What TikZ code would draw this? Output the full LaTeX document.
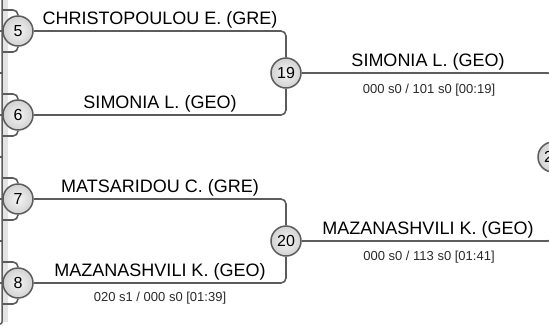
\documentclass[tikz,border=0pt]{standalone}
\usepackage{fontspec}
\setmainfont{Liberation Sans}
\definecolor{lineg}{HTML}{5C5C5C}
\definecolor{bandg}{HTML}{E4E4E4}
\definecolor{circin}{HTML}{F4F4F4}
\definecolor{circout}{HTML}{D2D2D2}
\definecolor{txtg}{HTML}{2A2A2A}
\begin{document}
\begin{tikzpicture}[x=1pt,y=-1pt,
  conn/.style={draw=lineg, line width=1.6pt, rounded corners=5pt},
  seed/.style={circle, draw=lineg, line width=1.5pt, inner color=circin, outer color=circout,
    minimum size=30pt, inner sep=0pt, font=\fontsize{16}{16}\selectfont, text=black},
  pname/.style={anchor=base, font=\fontsize{18}{18}\selectfont, text=black, inner sep=0pt},
  score/.style={anchor=base, font=\fontsize{13}{13}\selectfont, text=txtg, inner sep=0pt},
  tick/.style={draw=lineg, line width=1.3pt}]
\useasboundingbox (0,0) rectangle (549,327);
\clip (0,0) rectangle (549,327);
% left edge of previous column
\fill[bandg] (3.2,0) rectangle (7.6,322);
\draw[draw=lineg, line width=1.5pt, rounded corners=2pt] (2,-2) -- (2,324) -- (-2,324);
\foreach \yy in {31,73,115,157,199,241,283} \draw[tick] (-1,\yy) -- (2,\yy);
% seed nodes
\node[seed] (n5) at (18,31) {5};
\node[seed] (n6) at (18,115) {6};
\node[seed] (n7) at (18,199) {7};
\node[seed] (n8) at (18,283) {8};
\node[seed] (n19) at (286,73) {19};
\node[seed] (n20) at (286,241) {20};
\node[seed] (n21) at (553,157) {21};
% incoming stubs from previous round
\coordinate (a5t) at (2.5,10);  \coordinate (a5b) at (2.5,52);
\coordinate (a6t) at (2.5,94);  \coordinate (a6b) at (2.5,136);
\coordinate (a7t) at (2.5,178); \coordinate (a7b) at (2.5,220);
\coordinate (a8t) at (2.5,262); \coordinate (a8b) at (2.5,304);
\foreach \s in {5,6,7,8} {
  \draw[conn] (a\s t) -| (n\s);
  \draw[conn] (a\s b) -| (n\s);
}
% connectors
\draw[conn] (n5) -| (n19);
\draw[conn] (n6) -| (n19);
\draw[conn] (n7) -| (n20);
\draw[conn] (n8) -| (n20);
\draw[conn] (n19) -| (n21);
\draw[conn] (n20) -| (n21);
% labels
\node[pname] (t1) at (160,24) {CHRISTOPOULOU E. (GRE)};
\node[pname] (t2) at (160,108) {SIMONIA L. (GEO)};
\node[pname] (t3) at (428,66) {SIMONIA L. (GEO)};
\node[score] (s3) at (429,93) {000 s0 / 101 s0 [00:19]};
\node[pname] (t4) at (160,192) {MATSARIDOU C. (GRE)};
\node[pname] (t5) at (160,276) {MAZANASHVILI K. (GEO)};
\node[score] (s5) at (160,301.5) {020 s1 / 000 s0 [01:39]};
\node[pname] (t6) at (428,234) {MAZANASHVILI K. (GEO)};
\node[score] (s6) at (429,260) {000 s0 / 113 s0 [01:41]};
\end{tikzpicture}
\end{document}
